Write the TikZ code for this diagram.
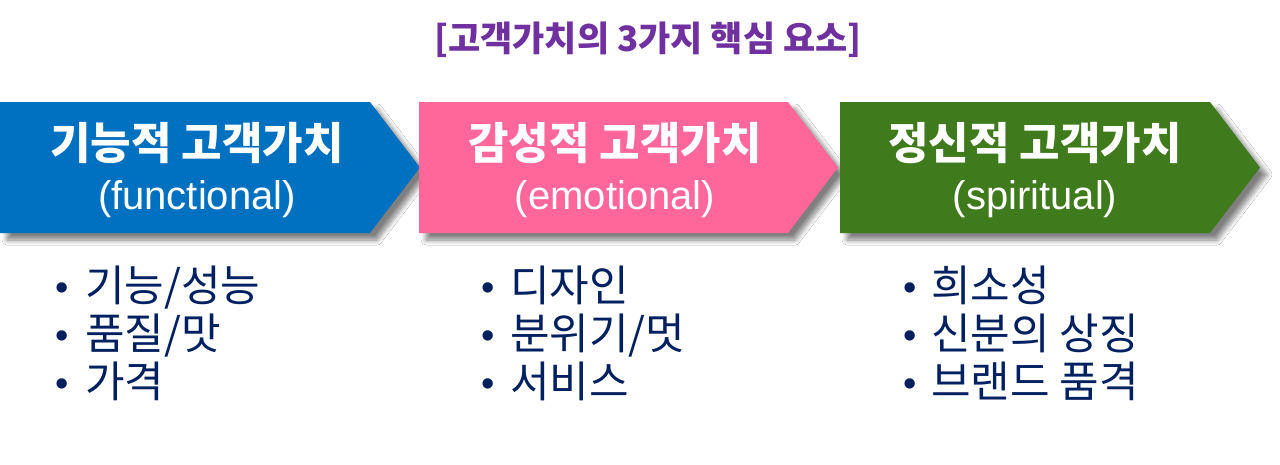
\documentclass[tikz,border=0pt]{standalone}
\usepackage{fontspec}
\setmainfont{Liberation Sans}
\newfontfamily\kr{Noto Sans CJK KR}
\usetikzlibrary{shadows.blur}
\definecolor{cblue}{HTML}{0070C0}
\definecolor{cpink}{HTML}{FF6699}
\definecolor{cgreen}{HTML}{3F7A1C}
\definecolor{cnavy}{HTML}{002060}
\definecolor{cpurple}{HTML}{7030A0}
\begin{document}
\begin{tikzpicture}[x=1pt,y=-1pt,
  chevron/.style={draw=none, blur shadow={shadow xshift=7pt, shadow yshift=-7pt, shadow blur radius=5pt, shadow blur steps=8, shadow opacity=50}},
  head/.style={inner sep=0pt, anchor=base, text=white, font=\kr\bfseries\fontsize{44}{52}\selectfont},
  sub/.style={inner sep=0pt, anchor=base, text=white, font=\fontsize{40}{48}\selectfont},
  item/.style={inner sep=0pt, anchor=base west, text=cnavy, font=\kr\fontsize{43}{50}\selectfont},
  dot/.style={inner sep=0pt, anchor=base, text=cnavy, font=\fontsize{38}{46}\selectfont},
  title/.style={inner sep=0pt, anchor=base, text=cpurple, font=\kr\bfseries\fontsize{35}{42}\selectfont}]
\useasboundingbox (0,0) rectangle (1280,464);
\fill[white] (0,0) rectangle (1280,464);

\node[title] (title) at (648,51) {[고객가치의 3가지 핵심 요소]};

% chevrons
\path[fill=cblue, chevron] (0,102) -- (370,102) -- (420,167.5) -- (370,233) -- (0,233) -- cycle;
\path[fill=cpink, chevron] (419,102) -- (788,102) -- (838,167.5) -- (788,233) -- (419,233) -- cycle;
\path[fill=cgreen, chevron] (840,102) -- (1210,102) -- (1260,167.5) -- (1210,233) -- (840,233) -- cycle;

\node[head] (h1) at (197,159) {기능적 고객가치};
\node[sub]  (s1) at (197,209) {(functional)};
\node[head] (h2) at (615,159) {감성적 고객가치};
\node[sub]  (s2) at (615,209) {(emotional)};
\node[head] (h3) at (1035,159) {정신적 고객가치};
\node[sub]  (s3) at (1035,209) {(spiritual)};

% column 1
\node[dot]  (d11) at (62,300) {•};
\node[item] (i11) at (85,301) {기능/성능};
\node[dot]  (d12) at (62,348) {•};
\node[item] (i12) at (85,349) {품질/맛};
\node[dot]  (d13) at (62,396) {•};
\node[item] (i13) at (85,397) {가격};
% column 2
\node[dot]  (d21) at (488,300) {•};
\node[item] (i21) at (510,301) {디자인};
\node[dot]  (d22) at (488,348) {•};
\node[item] (i22) at (510,349) {분위기/멋};
\node[dot]  (d23) at (488,396) {•};
\node[item] (i23) at (510,397) {서비스};
% column 3
\node[dot]  (d31) at (910,300) {•};
\node[item] (i31) at (931,301) {희소성};
\node[dot]  (d32) at (910,348) {•};
\node[item] (i32) at (931,349) {신분의 상징};
\node[dot]  (d33) at (910,396) {•};
\node[item] (i33) at (931,397) {브랜드 품격};
\end{tikzpicture}
\end{document}
